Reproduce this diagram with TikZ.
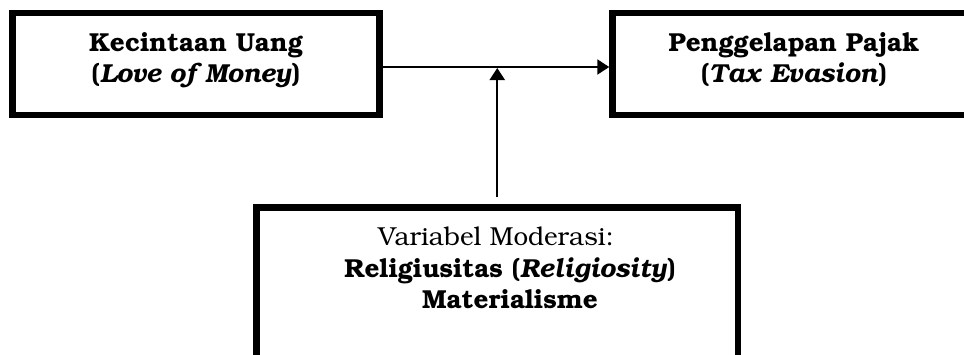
\documentclass[tikz,border=0pt]{standalone}
\usepackage[T1]{fontenc}
\usepackage{bookman}
\usetikzlibrary{arrows.meta}
\begin{document}
\begin{tikzpicture}[x=1pt,y=-1pt,
  box/.style={draw,line width=6.5pt,inner sep=0pt},
  txt/.style={font=\fontsize{26}{31}\selectfont,align=center,inner sep=0pt,anchor=base},
  conn/.style={line width=2.2pt,-{Triangle[length=12pt,width=15pt]}}]
\useasboundingbox (0,0) rectangle (964,354);
\clip (0,0) rectangle (964,354);
\node[box,minimum width=366.6pt,minimum height=102.3pt] (b1) at (196,63.9) {};
\node[box,minimum width=366.6pt,minimum height=102.3pt] (b2) at (795.8,63.9) {};
\node[box,minimum width=481.5pt,minimum height=212.5pt] (b3) at (497.25,313.75) {};
\node[txt] (t1) at (196,82.5) {\textbf{Kecintaan Uang}\\\textbf{(\textit{Love of Money})}};
\node[txt] (t2) at (794,82.5) {\textbf{Penggelapan Pajak}\\\textbf{(\textit{Tax Evasion})}};
\node[txt] (t3) at (496,245) {Variabel Moderasi:};
\node[txt] (t4) at (510,308) {\textbf{Religiusitas (\textit{Religiosity})}\\\textbf{Materialisme}};
\coordinate (j) at (497.25,67);
\draw[conn] (b1.east |- j) -- (b2.west |- j);
\draw[conn,shorten <=7pt,shorten >=1pt] (b3.north) -- (j);
\end{tikzpicture}
\end{document}
